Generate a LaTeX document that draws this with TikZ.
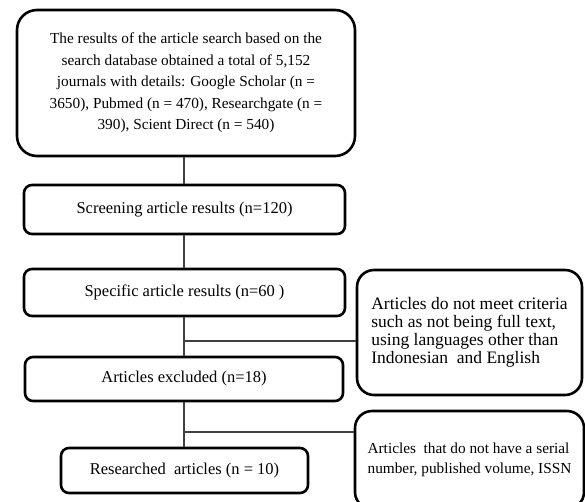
\documentclass[tikz,border=0pt]{standalone}
\usepackage{fontspec}
\setmainfont{Liberation Serif}
\begin{document}
\begin{tikzpicture}[x=1pt,y=-1pt,
  box/.style={draw=black,line width=2.6pt,fill=white,inner sep=0pt,align=center,rounded corners=8pt,font=\fontsize{16.5}{20}\selectfont},
  conn/.style={draw=black!75,line width=1.2pt}]
\clip (0,0) rectangle (585,501);
\fill[white] (0,0) rectangle (585,501);
\coordinate (j1) at (184,341);
\coordinate (j2) at (184,432);
\node[box,rounded corners=20pt,minimum width=338pt,minimum height=146pt,
  font=\fontsize{15.3}{21.5}\selectfont] (top) at (186,83)
  {The results of the article search based on the\\
   search database obtained a total of 5,152\\
   journals with details: Google Scholar (n =\\
   3650), Pubmed (n = 470), Researchgate (n =\\
   390), Scient Direct (n = 540)};
\node[box,minimum width=321pt,minimum height=49pt] (screen) at (184.5,209.5)
  {Screening article results (n=120)};
\node[box,minimum width=321pt,minimum height=47pt] (spec) at (184.5,292.5)
  {Specific article results (n=60 )};
\node[box,minimum width=318pt,minimum height=44pt] (excl) at (184,379)
  {Articles excluded (n=18)};
\node[box,minimum width=247pt,minimum height=45pt] (res) at (184.5,470.5)
  {Researched\ \ articles (n = 10)};
\node[box,rounded corners=17pt,align=left,minimum width=225pt,minimum height=125pt,
  font=\fontsize{17.5}{18}\selectfont] (rb1) at (469.5,332.5)
  {Articles do not meet criteria\\
   such as not being full text,\\
   using languages other than\\
   Indonesian\ \ and English};
\node[box,rounded corners=17pt,align=left,minimum width=229pt,minimum height=98pt,
  font=\fontsize{15.3}{20}\selectfont] (rb2) at (469.5,460)
  {Articles\ \ that do not have a serial\\
   number, published volume, ISSN};
\draw[conn] (top.south -| j1) -- (screen.north -| j1);
\draw[conn] (screen.south -| j1) -- (spec.north -| j1);
\draw[conn] (spec.south -| j1) -- (excl.north -| j1);
\draw[conn] (excl.south -| j1) -- (res.north -| j1);
\draw[conn] (j1) -- (j1 -| rb1.west);
\draw[conn] (j2) -- (j2 -| rb2.west);
\end{tikzpicture}
\end{document}
